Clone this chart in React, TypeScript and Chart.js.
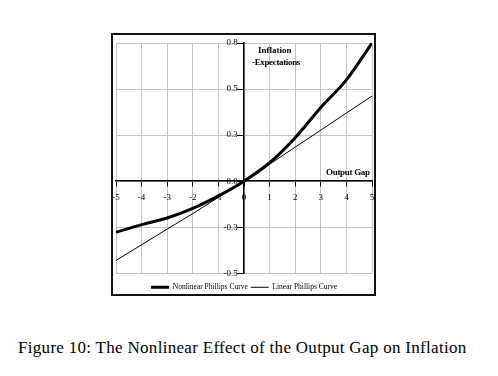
import React, { useEffect, useRef } from "react";
import { Chart, registerables } from "chart.js";

Chart.register(...registerables);

const outputGap = [-5, -4, -3, -2, -1, 0, 1, 2, 3, 4, 5];
const nonlinearPC = [-0.277, -0.236, -0.2, -0.148, -0.08, 0, 0.1, 0.236, 0.4, 0.55, 0.75];
const linearPC = [-0.43, -0.345, -0.26, -0.176, -0.088, 0, 0.092, 0.185, 0.277, 0.37, 0.462];
const yTickValues = [-0.5, -0.25, 0, 0.25, 0.5, 0.75];
const yTickLabels = ["-0.5", "-0.3", "0.0", "0.3", "0.5", "0.8"];
const xTickLabels = ["-5", "-4", "-3", "-2", "-1", "0", "1", "2", "3", "4", "5"];
const seriesNames = ["Nonlinear Phillips Curve", "Linear Phillips Curve"];

const serif = "'Liberation Serif', 'Times New Roman', serif";
const labelGap = "\u2002\u2009";

export default function App() {
  const ref = useRef<HTMLCanvasElement>(null);

  useEffect(() => {
    if (!ref.current) return;
    const chart = new Chart(ref.current, {
      type: "line",
      data: {
        datasets: [
          {
            label: seriesNames[0],
            data: outputGap.map((x, i) => ({ x, y: nonlinearPC[i] })),
            borderColor: "#000",
            backgroundColor: "#000",
            borderWidth: 3,
            pointRadius: 0,
            cubicInterpolationMode: "monotone",
          },
          {
            label: seriesNames[1],
            data: outputGap.map((x, i) => ({ x, y: linearPC[i] })),
            borderColor: "#000",
            backgroundColor: "#000",
            borderWidth: 1,
            pointRadius: 0,
            tension: 0,
          },
        ],
      },
      options: {
        animation: false,
        responsive: false,
        layout: { padding: { left: 116, right: 126, top: 43, bottom: 9 } },
        plugins: {
          tooltip: { enabled: false },
          legend: {
            position: "bottom",
            title: { display: true, text: "", font: { size: 1 }, padding: { top: 6, bottom: 0 } },
            labels: {
              usePointStyle: true,
              pointStyle: "line",
              pointStyleWidth: 18,
              padding: 3,
              color: "#000",
              font: { family: serif, size: 7.5 },
            },
          },
        },
        scales: {
          x: {
            type: "linear",
            min: -5,
            max: 5,
            position: { y: 0 },
            ticks: {
              stepSize: 1,
              color: "#000",
              padding: 6,
              font: { family: serif, size: 9 },
              callback: (v: any) => {
                const i = outputGap.indexOf(Number(v));
                return i >= 0 ? xTickLabels[i] : "";
              },
            },
            grid: { color: "#c4c4c4", lineWidth: 1, tickColor: "#000", tickLength: 5 },
            border: { display: true, color: "#000", width: 1.5 },
          },
          y: {
            type: "linear",
            min: -0.5,
            max: 0.75,
            position: { x: 0 },
            afterBuildTicks: (scale: any) => {
              scale.ticks = yTickValues.map((value) => ({ value }));
            },
            ticks: {
              color: "#000",
              padding: 1,
              font: { family: serif, size: 9 },
              callback: (v: any) => {
                const i = yTickValues.indexOf(Number(v));
                return i >= 0 ? yTickLabels[i] + labelGap : "";
              },
            },
            grid: { color: "#c4c4c4", lineWidth: 1, tickColor: "#000", tickLength: 6 },
            border: { display: true, color: "#000", width: 1.5 },
          },
        },
      },
    });
    return () => chart.destroy();
  }, []);

  return (
    <div style={{ position: "absolute", left: 0, top: 0, width: 498, height: 376, background: "#fff" }}>
      <div
        style={{
          position: "absolute",
          left: 111,
          top: 33,
          width: 265,
          height: 263,
          border: "2px solid #111",
          boxSizing: "border-box",
        }}
      />
      <canvas ref={ref} width={498} height={310} style={{ position: "absolute", left: 0, top: 0 }} />
      <div style={{ position: "absolute", left: 258, top: 45, font: `bold 9px ${serif}`, color: "#000" }}>Inflation</div>
      <div style={{ position: "absolute", left: 252, top: 57, font: `bold 9px ${serif}`, letterSpacing: "-0.35px", color: "#000" }}>-Expectations</div>
      <div style={{ position: "absolute", left: 326, top: 167, font: `bold 9px ${serif}`, letterSpacing: "-0.3px", color: "#000" }}>Output Gap</div>
      <div
        style={{
          position: "absolute",
          left: 18,
          top: 338,
          font: `17px ${serif}`,
          letterSpacing: "0.3px",
          color: "#000",
          whiteSpace: "nowrap",
        }}
      >
        Figure 10: The Nonlinear Effect of the Output Gap on Inflation
      </div>
    </div>
  );
}
